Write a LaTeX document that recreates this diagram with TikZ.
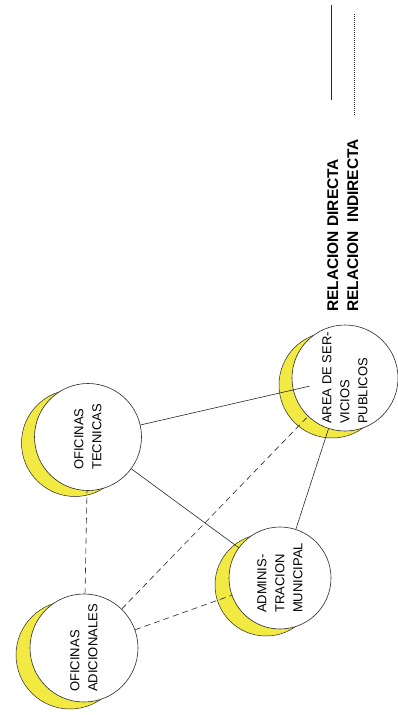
\documentclass[tikz,border=0pt]{standalone}
\usepackage{fontspec}
\setmainfont{Liberation Sans}
\definecolor{crescent}{RGB}{242,234,66}
\definecolor{ink}{RGB}{40,40,40}
\begin{document}
\begin{tikzpicture}[x=1pt,y=-1pt,
  shadowdisc/.style={circle, draw=ink, line width=0.5pt, fill=crescent, minimum size=#1, inner sep=0pt},
  bubble/.style={circle, draw=ink, line width=0.6pt, fill=white, minimum size=#1, inner sep=0pt, rotate=90, align=left, font=\fontsize{13}{18}\selectfont},
  direct/.style={draw=ink, line width=0.6pt},
  indirect/.style={draw=ink, line width=0.6pt, dash pattern=on 6pt off 4pt},
  dotline/.style={draw=ink, line width=0.7pt, dash pattern=on 1pt off 1pt},
  legendtext/.style={rotate=90, anchor=base west, inner sep=0pt, font=\bfseries\fontsize{15.5}{18}\selectfont}]
\useasboundingbox (0,0) rectangle (398,715);
% shadows
\node[shadowdisc=108pt] (adicY) at (70,655) {};
\node[shadowdisc=107pt] (tecY) at (75,443) {};
\node[shadowdisc=102pt] (adminY) at (266,585) {};
\node[shadowdisc=106pt] (areaY) at (332,385) {};
% circles
\node[bubble=108pt] (adic) at (84,648) {OFICINAS\\ADICIONALES};
\node[bubble=107pt] (tec) at (88,437) {OFICINAS\\TECNICAS};
\node[bubble=102pt] (admin) at (280,578) {ADMINIS-\\TRACION\\MUNICIPAL};
\node[bubble=106pt] (area) at (345,378) {AREA DE SER-\\VICIOS\\PUBLICOS};
% connectors
\draw[direct, shorten >=-17pt] (tec) -- (area);
\draw[direct] (tec) -- (admin);
\draw[direct] (admin) -- (area);
\draw[indirect] (adic) -- (tec);
\draw[indirect] (adic) -- (area);
\draw[indirect] (adic) -- (admin);
% legend
\node[legendtext] (l1) at (338,312) {RELACION DIRECTA};
\node[legendtext] (l2) at (358,312) {RELACION\ \ INDIRECTA};
\coordinate (d1) at (331,100);
\coordinate (d2) at (331,5);
\coordinate (i1) at (354,115);
\coordinate (i2) at (354,13);
\draw[direct] (d1) -- (d2);
\draw[dotline] (i1) -- (i2);
\end{tikzpicture}
\end{document}
